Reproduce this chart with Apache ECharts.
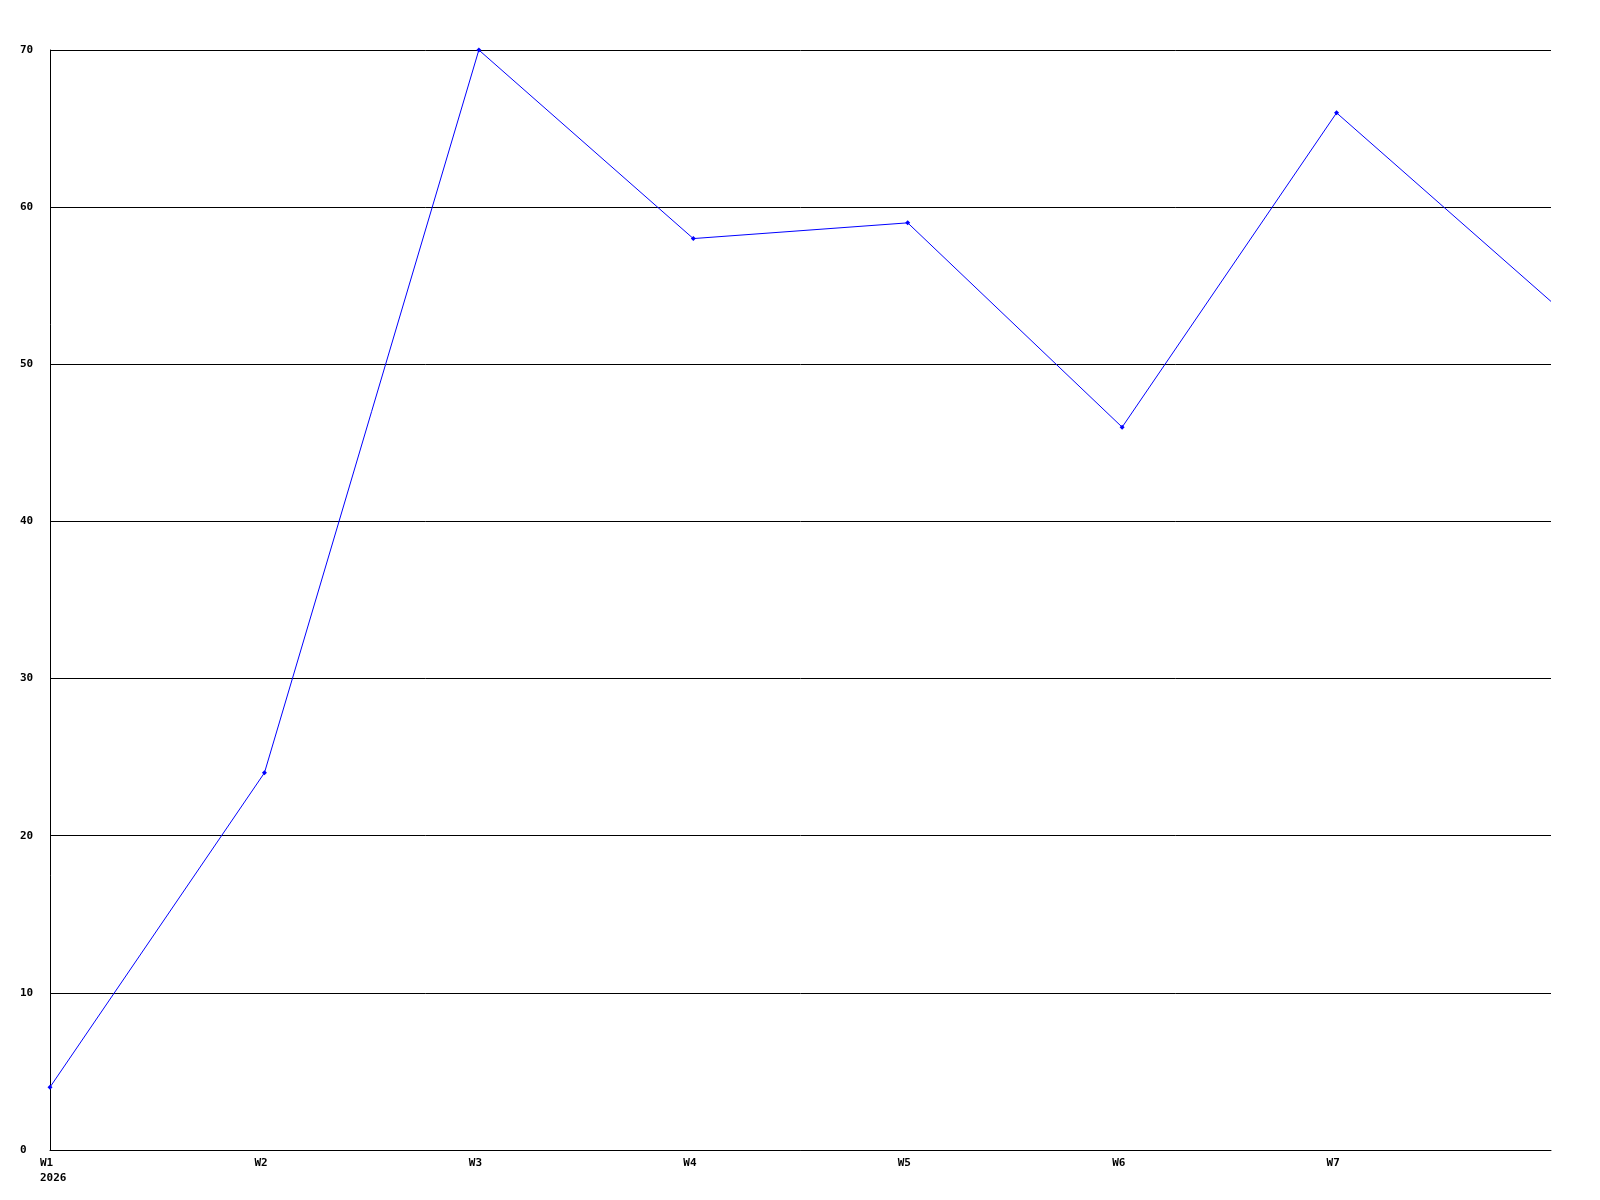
<!DOCTYPE html>
<html>
<head>
<meta charset="utf-8">
<script src="https://cdn.jsdelivr.net/npm/echarts@6/dist/echarts.min.js"></script>
<style>
html, body { margin: 0; padding: 0; background: #fff; }
#chart { width: 1600px; height: 1200px; }
</style>
</head>
<body>
<div id="chart"></div>
<script>
// weeks and values
let weeks = ['W1', 'W2', 'W3', 'W4', 'W5', 'W6', 'W7', 'W8'];
let values = [4, 24, 70, 58, 59, 46, 66, 54];
let yearLabel = '2026';

let chart = echarts.init(document.getElementById('chart'));

let labelFont = {
  fontFamily: 'DejaVu Sans Mono',
  fontWeight: 'bold',
  fontSize: 11,
  color: '#000'
};

// last point sits on the right edge without a marker
let seriesData = values.map(function (v, i) {
  if (i === values.length - 1) return { value: v, symbol: 'none' };
  return v;
});

let option = {
  animation: false,
  backgroundColor: '#fff',
  grid: { left: 50, right: 49, top: 50, bottom: 50 },
  xAxis: {
    type: 'category',
    data: weeks,
    boundaryGap: false,
    axisLine: { lineStyle: { color: '#000', width: 1 } },
    axisTick: { show: false },
    axisLabel: {
      margin: 6,
      interval: 0,
      align: 'center',
      formatter: function (v, i) {
        if (i === weeks.length - 1) return '';
        if (i === 0) return '{a|' + v + '}\n{a|' + yearLabel + '}';
        return '{a|' + v + '}';
      },
      rich: {
        a: Object.assign({ width: 20, align: 'left', lineHeight: 15 }, labelFont)
      }
    },
    splitLine: { show: false }
  },
  yAxis: {
    type: 'value',
    min: 0,
    max: 70,
    interval: 10,
    axisLine: { show: true, lineStyle: { color: '#000', width: 1 } },
    axisTick: { show: false },
    axisLabel: Object.assign({ align: 'left', margin: 30, padding: [2, 0, 0, 0] }, labelFont),
    splitLine: { lineStyle: { color: '#000', width: 1 } }
  },
  series: [
    {
      type: 'line',
      data: seriesData,
      symbol: 'diamond',
      symbolSize: 5,
      showAllSymbol: true,
      lineStyle: { color: '#0000ff', width: 1 },
      itemStyle: { color: '#0000ff' }
    }
  ]
};

chart.setOption(option);
</script>
</body>
</html>
